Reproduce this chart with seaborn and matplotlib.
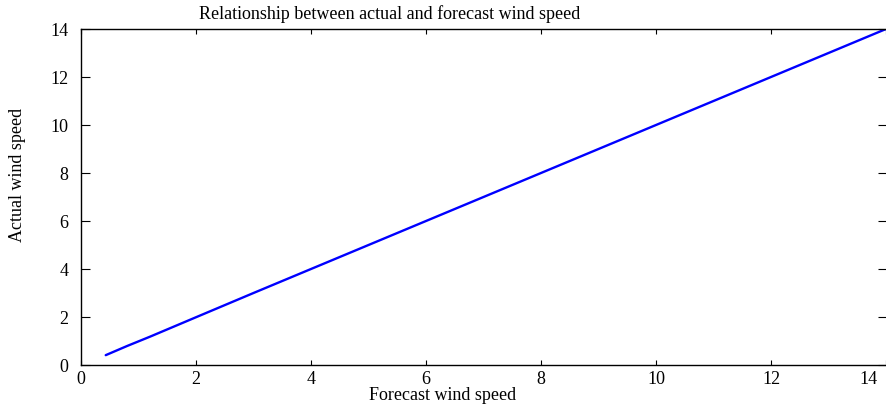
import matplotlib
matplotlib.use("Agg")
import matplotlib.pyplot as plt
import matplotlib.transforms as mtransforms
import seaborn as sns
import pandas as pd

forecast = [0.43, 0.8, 1.2, 2.0, 3.0, 4.0, 5.0, 6.0, 7.0, 8.0, 9.0, 10.0, 11.0, 12.0, 13.0, 14.0]
actual = [0.41, 0.79, 1.18, 1.99, 3.0, 4.0, 5.0, 6.0, 7.0, 8.0, 9.0, 10.0, 11.0, 12.0, 13.0, 14.0]
x_ticks = [0, 2, 4, 6, 8, 10, 12, 14]
y_ticks = [0, 2, 4, 6, 8, 10, 12, 14]

sns.set_style("white")
plt.rcParams["font.family"] = ["Liberation Serif", "DejaVu Serif"]
plt.rcParams["font.size"] = 13
plt.rcParams["text.color"] = "black"
plt.rcParams["axes.labelcolor"] = "black"
plt.rcParams["xtick.color"] = "black"
plt.rcParams["ytick.color"] = "black"

df = pd.DataFrame({"Forecast wind speed": forecast, "Actual wind speed": actual})

fig = plt.figure(figsize=(8.87, 4.12), dpi=100)
ax = fig.add_axes([81 / 887, 47 / 412, 806 / 887, 336 / 412])
sns.lineplot(data=df, x="Forecast wind speed", y="Actual wind speed", ax=ax,
             color="#0000ff", linewidth=1.7, estimator=None, sort=False)

ax.set_xlim(0, 806 / 57.5)
ax.set_ylim(0, 14)
ax.set_xticks(x_ticks)
ax.set_yticks(y_ticks)
ax.set_xticklabels([str(v) for v in x_ticks])
ax.set_yticklabels([str(v) for v in y_ticks])

for s in ["left", "bottom", "top"]:
    ax.spines[s].set_visible(True)
    ax.spines[s].set_color("black")
    ax.spines[s].set_linewidth(1.0)
ax.spines["right"].set_visible(False)

ax.tick_params(axis="x", direction="in", length=3.5, width=0.8, top=True, bottom=True,
               pad=4, labelsize=13, colors="black", labelcolor="black")
ax.tick_params(axis="y", direction="in", length=6.5, width=0.8, left=True, right=True,
               pad=9, labelsize=13, colors="black", labelcolor="black")

last = ax.get_xticklabels()[-1]
last.set_horizontalalignment("right")
last.set_transform(last.get_transform() + mtransforms.ScaledTranslation(-8 / 100, 0, fig.dpi_scale_trans))

ax.set_xlabel("")
ax.set_ylabel("")
fig.text(443 / 887, 1 - 396 / 412, "Forecast wind speed", ha="center", va="center",
         fontsize=13, color="black")
fig.text(18 / 887, 1 - 175 / 412, "Actual wind speed", ha="center", va="center",
         rotation=90, fontsize=13, color="black")
fig.text(390 / 887, 1 - 14 / 412, "Relationship between actual and forecast wind speed",
         ha="center", va="center", fontsize=13, color="black")

fig.savefig("out.png", dpi=100)
